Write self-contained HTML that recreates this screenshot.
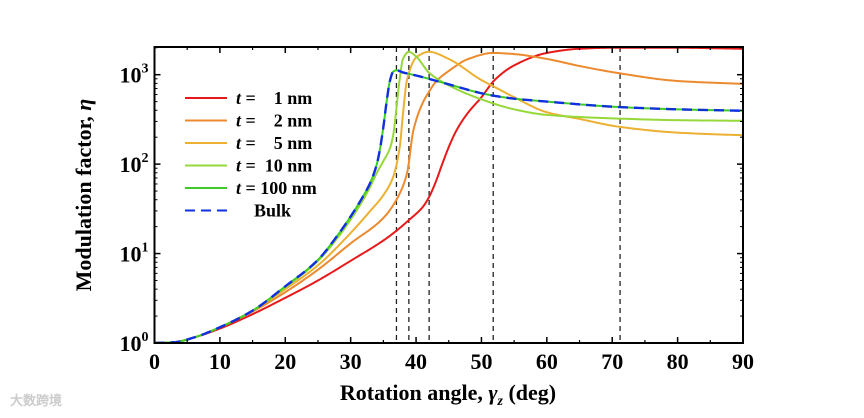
<!DOCTYPE html>
<html><head><meta charset="utf-8"><style>
body{margin:0;background:#fff;}
svg text{font-family:"Liberation Serif",serif;font-weight:bold;}
</style></head><body>
<svg width="864" height="413" xmlns="http://www.w3.org/2000/svg">
<g id="plot"></g>
<text x="448" y="400" font-size="22" text-anchor="middle">Rotation angle, <tspan font-style="italic">γ</tspan><tspan font-size="14" dy="5" font-style="italic">z</tspan><tspan dy="-5"> (deg)</tspan></text>
<text transform="translate(91,195) rotate(-90)" font-size="22" text-anchor="middle">Modulation factor, <tspan font-style="italic">η</tspan></text>
<text x="10" y="405" font-size="13" fill="#ccc" font-family="Noto Sans CJK SC,sans-serif">大数跨境</text>
</svg>
<script>
const xTicks=[0,10,20,30,40,50,60,70,80,90];
const yTicks=[0,1,2,3];
const vlines=[37,38.9,42,51.8,71.2];
const seriesNames=["t =    1 nm","t =    2 nm","t =    5 nm","t =  10 nm","t = 100 nm","Bulk"];
const seriesColors=["#e8191b","#ec8a2f","#ecb032","#96d83a","#3ecb2a","#1030e0"];
const xs1=[0,3,6,10,15,20,25,30,35,37,39,41,42,43,44,45,46,47,48,50,52,55,60,65,70,80,90];
const ys1=[1,1.02,1.15,1.45,2.1,3.2,5,8.3,14,18,24,33,43,63,100,155,225,300,380,560,870,1270,1750,1950,2000,2000,1950];
const xs2=[0,3,6,10,15,20,25,30,35,37,38.6,39.6,41,42.1,43,45,48,51.8,55,60,65,71,80,90];
const ys2=[1,1.02,1.15,1.5,2.25,3.7,6.6,13,25,40,78,240,480,665,830,1100,1500,1750,1700,1500,1250,1040,850,790];
const xs3=[0,3,6,10,15,20,25,30,33,35,36.5,37.5,38,38.6,40.1,42,45,50,52,55,60,65,71,80,90];
const ys3=[1,1.02,1.15,1.5,2.3,4,7.4,17,30,45,72,155,365,860,1580,1800,1500,870,730,560,380,320,262,225,210];
const xs4=[0,3,6,10,15,20,25,28,30,32,33,34,35,36,36.5,37,37.5,38,38.9,40,42,45,50,55,60,70,80,90];
const ys4=[1,1.02,1.15,1.5,2.3,4.2,8.3,15,24,41,56,80,108,150,210,420,900,1500,1800,1600,1050,760,530,410,355,325,310,305];
const xsB=[0,3,6,10,15,20,25,28,30,32,33,34,34.5,35,35.5,36,36.5,37,38,40,45,50,52,55,60,71,80,90];
const ysB=[1,1.02,1.15,1.5,2.3,4.3,8.5,16,26,45,62,100,150,260,500,850,1080,1120,1060,980,780,620,580,540,500,435,410,395];
const seriesX=[xs1,xs2,xs3,xs4,xsB,xsB];
const seriesY=[ys1,ys2,ys3,ys4,ysB,ysB];

const L=154.5,R=743,T=47,B=343,yMaxLog=Math.log10(2040);
const X=v=>L+(v-0)/(90)*(R-L);
const Y=v=>B-Math.log10(v)/yMaxLog*(B-T);
const NS="http://www.w3.org/2000/svg";
const g=document.getElementById('plot');
function mk(t,a){const e=document.createElementNS(NS,t);for(const k in a)e.setAttribute(k,a[k]);g.appendChild(e);return e;}
function pathOf(xa,ya){
  const n=xa.length,ly=ya.map(v=>Math.log10(v));
  const d=[],m=new Array(n).fill(0);
  for(let i=0;i<n-1;i++)d.push((ly[i+1]-ly[i])/(xa[i+1]-xa[i]));
  m[0]=d[0];m[n-1]=d[n-2];
  for(let i=1;i<n-1;i++){
    if(d[i-1]*d[i]<=0)m[i]=0;
    else{const w1=2*(xa[i+1]-xa[i])+(xa[i]-xa[i-1]),w2=(xa[i+1]-xa[i])+2*(xa[i]-xa[i-1]);
      m[i]=(w1+w2)/(w1/d[i-1]+w2/d[i]);}
  }
  let s="";
  for(let i=0;i<n-1;i++){
    const h=xa[i+1]-xa[i];
    for(let k=0;k<=20;k++){
      if(i>0&&k==0)continue;
      const t=k/20,t2=t*t,t3=t2*t;
      const v=(2*t3-3*t2+1)*ly[i]+(t3-2*t2+t)*h*m[i]+(-2*t3+3*t2)*ly[i+1]+(t3-t2)*h*m[i+1];
      const px=X(xa[i]+t*h),py=Y(Math.pow(10,v));
      s+=(s?"L":"M")+px.toFixed(2)+","+py.toFixed(2);
    }
  }
  return s;
}
const cp=mk('clipPath',{id:'clip'});const cr=document.createElementNS(NS,'rect');
cr.setAttribute('x',L);cr.setAttribute('y',T);cr.setAttribute('width',R-L);cr.setAttribute('height',B-T);cp.appendChild(cr);
vlines.forEach(v=>{const e=mk('line',{x1:X(v),x2:X(v),y1:T,y2:B,stroke:'#222','stroke-width':1.3,'stroke-dasharray':'5,4'});

});
seriesX.forEach((xa,i)=>{
  const e=mk('path',{d:pathOf(xa,seriesY[i]),fill:'none',stroke:seriesColors[i],'stroke-width':i==5?2.4:2,'clip-path':'url(#clip)','stroke-linejoin':'round'});
  if(i==5)e.setAttribute('stroke-dasharray','10,6');
  
  
});
const fr=mk('rect',{x:L,y:T,width:R-L,height:B-T,fill:'none',stroke:'#000','stroke-width':2});


xTicks.forEach(v=>{
  mk('line',{x1:X(v),x2:X(v),y1:B,y2:B-6,stroke:'#000','stroke-width':1.5});
  mk('line',{x1:X(v),x2:X(v),y1:T,y2:T+6,stroke:'#000','stroke-width':1.5});
  if(v<90){mk('line',{x1:X(v+5),x2:X(v+5),y1:B,y2:B-3,stroke:'#000','stroke-width':1.2});mk('line',{x1:X(v+5),x2:X(v+5),y1:T,y2:T+3,stroke:'#000','stroke-width':1.2});}
  const t=mk('text',{x:X(v),y:B+26,'font-size':22,'text-anchor':'middle'});t.textContent=v;
  
  
});
yTicks.forEach(p=>{
  const y=Y(Math.pow(10,p));
  mk('line',{x1:L,x2:L+6,y1:y,y2:y,stroke:'#000','stroke-width':1.5});
  mk('line',{x1:R,x2:R-6,y1:y,y2:y,stroke:'#000','stroke-width':1.5});
  for(let m=2;m<10;m++){const yy=Y(m*Math.pow(10,p));if(yy<T)break;
    mk('line',{x1:L,x2:L+3,y1:yy,y2:yy,stroke:'#000','stroke-width':1});
    mk('line',{x1:R,x2:R-3,y1:yy,y2:yy,stroke:'#000','stroke-width':1});}
  const t=mk('text',{x:L-6,y:y+8,'font-size':22,'text-anchor':'end'});
  t.innerHTML='10<tspan font-size="14" dy="-10">'+p+'</tspan>';
  
  
});
seriesNames.forEach((n,i)=>{
  const y=98+i*22.5;
  const ln=mk('line',{x1:185,x2:227,y1:y,y2:y,stroke:seriesColors[i],'stroke-width':2});
  if(i==5)ln.setAttribute('stroke-dasharray','10,6');
  
  
  const t=mk('text',{x:236,y:y+6,'font-size':18,'xml:space':'preserve'});
  if(i<5){const parts=n.split('=');t.innerHTML='<tspan font-style="italic">t</tspan> ='+parts[1].replace(/ /g,'\u00a0');}
  else{t.setAttribute('x',236+18);t.textContent=n;}
  
  
});
</script>
</body></html>
